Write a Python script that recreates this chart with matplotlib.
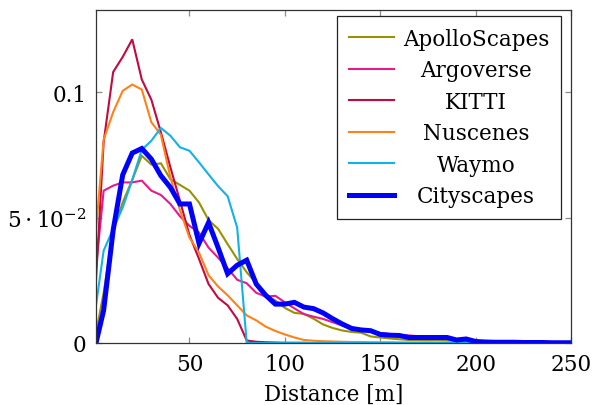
import matplotlib
matplotlib.use("Agg")
import matplotlib.pyplot as plt

plt.rcParams["font.family"] = ["DejaVu Serif"]
plt.rcParams["mathtext.fontset"] = "dejavuserif"

# distance bins [m]
distance = [1] + list(range(5, 251, 5))

apolloscapes = [
    0.004, 0.020, 0.045, 0.056, 0.065, 0.0746, 0.0711, 0.0716, 0.0653, 0.063,
    0.0607, 0.056, 0.049, 0.0455, 0.0394, 0.0335, 0.0282, 0.0238, 0.019, 0.017,
    0.014, 0.012, 0.0116, 0.0097, 0.0074, 0.006, 0.005, 0.0044, 0.0041, 0.0026,
    0.0022, 0.0018, 0.0015, 0.0012, 0.0012, 0.0011, 0.0011, 0.001, 0.0008, 0.0007,
    0.0005, 0.0004, 0.0003, 0.0003, 0.0002, 0.0002, 0.0002, 0.0001, 0.0001, 0.0001,
    0.0001,
]
argoverse = [
    0.030, 0.0607, 0.0627, 0.064, 0.064, 0.0647, 0.0607, 0.059, 0.0554, 0.0505,
    0.0467, 0.044, 0.038, 0.034, 0.0298, 0.0252, 0.0238, 0.020, 0.0185, 0.0188,
    0.0162, 0.0138, 0.0115, 0.0105, 0.0096, 0.0083, 0.007, 0.0059, 0.0054, 0.0047,
    0.004, 0.0036, 0.0032, 0.003, 0.0027, 0.0024, 0.0021, 0.0019, 0.0015, 0.0012,
    0.0009, 0.0007, 0.0006, 0.0005, 0.0004, 0.0004, 0.0003, 0.0003, 0.0002, 0.0002,
    0.0002,
]
kitti = [
    0.025, 0.080, 0.108, 0.114, 0.121, 0.105, 0.097, 0.084, 0.070, 0.0567,
    0.043, 0.0335, 0.0235, 0.018, 0.015, 0.0096, 0.001, 0.0005, 0.0003, 0.0002,
    0.0001, 0.0001, 0.0001, 0.0, 0.0, 0.0, 0.0, 0.0, 0.0, 0.0,
    0.0, 0.0, 0.0, 0.0, 0.0, 0.0, 0.0, 0.0, 0.0, 0.0,
    0.0, 0.0, 0.0, 0.0, 0.0, 0.0, 0.0, 0.0, 0.0, 0.0,
    0.0,
]
nuscenes = [
    0.045, 0.081, 0.092, 0.1005, 0.103, 0.101, 0.088, 0.083, 0.066, 0.053,
    0.042, 0.036, 0.027, 0.0225, 0.019, 0.015, 0.011, 0.009, 0.0065, 0.0048,
    0.0034, 0.0022, 0.0012, 0.0009, 0.0007, 0.0006, 0.0005, 0.0004, 0.0004, 0.0003,
    0.0003, 0.0003, 0.0002, 0.0002, 0.0002, 0.0002, 0.0001, 0.0001, 0.0001, 0.0001,
    0.0001, 0.0001, 0.0, 0.0, 0.0, 0.0, 0.0, 0.0, 0.0, 0.0,
    0.0,
]
waymo = [
    0.015, 0.0368, 0.0454, 0.054, 0.065, 0.077, 0.0806, 0.0857, 0.0826, 0.078,
    0.0766, 0.072, 0.0672, 0.0625, 0.0585, 0.046, 0.0, 0.0, 0.0, 0.0,
    0.0, 0.0, 0.0, 0.0, 0.0, 0.0, 0.0, 0.0, 0.0, 0.0,
    0.0, 0.0, 0.0, 0.0, 0.0, 0.0, 0.0, 0.0, 0.0, 0.0,
    0.0, 0.0, 0.0, 0.0, 0.0, 0.0, 0.0, 0.0, 0.0, 0.0,
    0.0,
]
cityscapes = [
    0.0, 0.013, 0.045, 0.067, 0.0757, 0.0775, 0.0733, 0.0667, 0.062, 0.0554,
    0.0554, 0.0397, 0.048, 0.038, 0.0276, 0.031, 0.033, 0.0235, 0.019, 0.0155,
    0.0155, 0.0162, 0.0143, 0.0137, 0.012, 0.0097, 0.0076, 0.0058, 0.0052, 0.0049,
    0.0034, 0.0031, 0.003, 0.0022, 0.0022, 0.0022, 0.0022, 0.0022, 0.0012, 0.0016,
    0.0006, 0.0004, 0.0003, 0.0003, 0.0003, 0.0002, 0.0002, 0.0002, 0.0001, 0.0001,
    0.0001,
]

series = [
    ("ApolloScapes", apolloscapes, "#9a9100", 1.5),
    ("Argoverse", argoverse, "#e8198b", 1.5),
    ("KITTI", kitti, "#c00a40", 1.5),
    ("Nuscenes", nuscenes, "#ff8218", 1.5),
    ("Waymo", waymo, "#12b2e8", 1.5),
    ("Cityscapes", cityscapes, "#0000ff", 3.6),
]

FS = 15.5

fig = plt.figure(figsize=(5.94, 4.06), dpi=100)
ax = fig.add_axes([96 / 594, 1 - 344 / 406, 475 / 594, 333 / 406])

for name, vals, color, lw in series:
    ax.plot(distance, vals, color=color, lw=lw, label=name,
            solid_joinstyle="miter")

ax.set_xlim(1, 250)
ax.set_ylim(0, 0.1327)
ax.set_xticks([50, 100, 150, 200, 250])
ax.set_yticks([0, 0.05, 0.1])
ax.set_yticklabels(["0", r"$5\cdot10^{-2}$", "0.1"])
ax.tick_params(direction="in", top=True, right=True, length=4.5, width=0.9,
               color="#8c8c8c", labelsize=FS, pad=7)
ax.tick_params(axis="x", pad=7)
for sp in ax.spines.values():
    sp.set_color("#333333")
    sp.set_linewidth(0.9)
ax.set_xlabel("Distance [m]", fontsize=FS, labelpad=6)

leg = ax.legend(loc="upper right", bbox_to_anchor=(0.979, 0.982),
                borderaxespad=0, fancybox=False, framealpha=1,
                edgecolor="#222222", fontsize=FS, handlelength=2.1,
                handletextpad=0.4, labelspacing=0.44, borderpad=0.55)
leg.get_frame().set_linewidth(0.9)

# center the legend entries like pgfplots does
fig.canvas.draw()
renderer = fig.canvas.get_renderer()
widths = [t.get_window_extent(renderer).width for t in leg.get_texts()]
maxw = max(widths)
for t, w in zip(leg.get_texts(), widths):
    t.set_position(((maxw - w) / 2, 0))

fig.savefig("out.png", dpi=100)
